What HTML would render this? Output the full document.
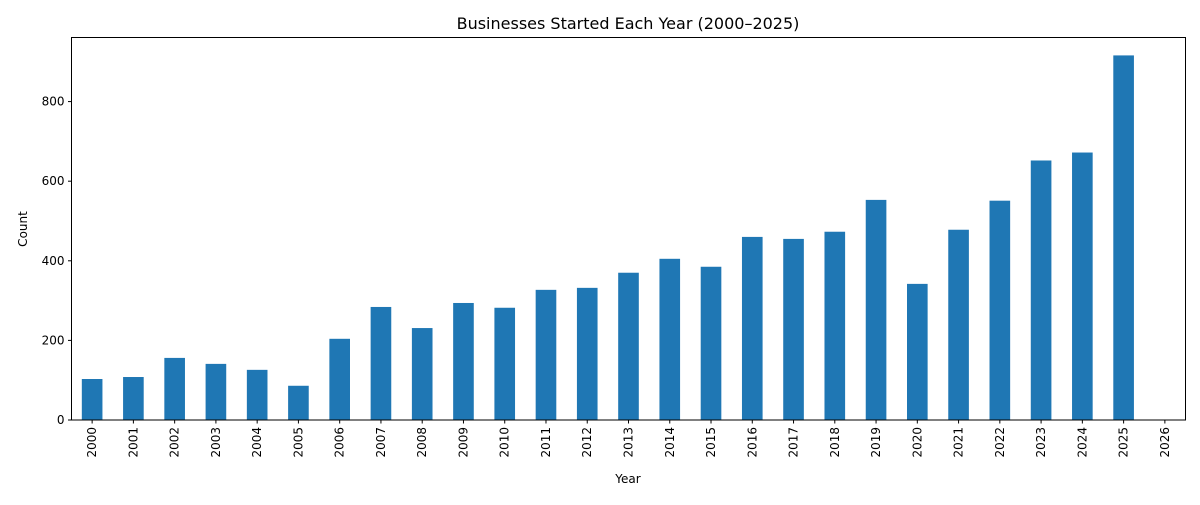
<!DOCTYPE html>
<html><head><meta charset="utf-8"><style>
html,body{margin:0;padding:0;background:#fff;}
svg text{font-family:"DejaVu Sans","Liberation Sans",sans-serif;fill:#000;}
</style></head><body>
<svg id="chart" width="1200" height="500" xmlns="http://www.w3.org/2000/svg">
<text x="628" y="29" font-size="16" text-anchor="middle">Businesses Started Each Year (2000–2025)</text>
<g id="bars"></g>
<g id="xticks"></g>
<g id="yticks"></g>
<rect x="71.5" y="37.5" width="1114" height="382.5" fill="none" stroke="#000" stroke-width="1"/>
<text x="628" y="483" font-size="12" text-anchor="middle">Year</text>
<text transform="translate(27,229) rotate(-90)" font-size="12" text-anchor="middle">Count</text>
</svg>
<script>
const categories = ["2000","2001","2002","2003","2004","2005","2006","2007","2008","2009","2010","2011","2012","2013","2014","2015","2016","2017","2018","2019","2020","2021","2022","2023","2024","2025","2026"];
const counts = [103,108,156,141,126,86,204,284,231,294,282,327,332,370,405,385,460,455,473,553,342,478,551,652,672,916,0];
const yTicks = [0,200,400,600,800];
const NS="http://www.w3.org/2000/svg";
const L=71.5,R=1185.5,T=37.5,B=420,YMAX=961;
const bw=(R-L)/categories.length;
const x=i=>L+bw*(i+0.5);
const y=v=>B-(v/YMAX)*(B-T);
const bars=document.getElementById('bars'),xt=document.getElementById('xticks'),yt=document.getElementById('yticks');
categories.forEach((c,i)=>{
  const r=document.createElementNS(NS,'rect');
  
  
  r.setAttribute('x',x(i)-bw*0.25);r.setAttribute('width',bw*0.5);
  r.setAttribute('y',y(counts[i]));r.setAttribute('height',B-y(counts[i]));
  r.setAttribute('fill','#1f77b4');bars.appendChild(r);
  const l=document.createElementNS(NS,'line');
  
  
  l.setAttribute('x1',x(i));l.setAttribute('x2',x(i));l.setAttribute('y1',B);l.setAttribute('y2',B+3.5);l.setAttribute('stroke','#000');xt.appendChild(l);
  const t=document.createElementNS(NS,'text');
  
  
  t.setAttribute('transform','translate('+(x(i)+4)+','+(B+7)+') rotate(-90)');
  t.setAttribute('font-size','12');t.setAttribute('text-anchor','end');t.textContent=c;xt.appendChild(t);
});
yTicks.forEach(v=>{
  const l=document.createElementNS(NS,'line');
  
  
  l.setAttribute('x1',L-3.5);l.setAttribute('x2',L);l.setAttribute('y1',y(v));l.setAttribute('y2',y(v));l.setAttribute('stroke','#000');yt.appendChild(l);
  const t=document.createElementNS(NS,'text');
  
  
  t.setAttribute('x',L-7);t.setAttribute('y',y(v)+4);t.setAttribute('font-size','12');t.setAttribute('text-anchor','end');t.textContent=v;yt.appendChild(t);
});
</script>
</body></html>
